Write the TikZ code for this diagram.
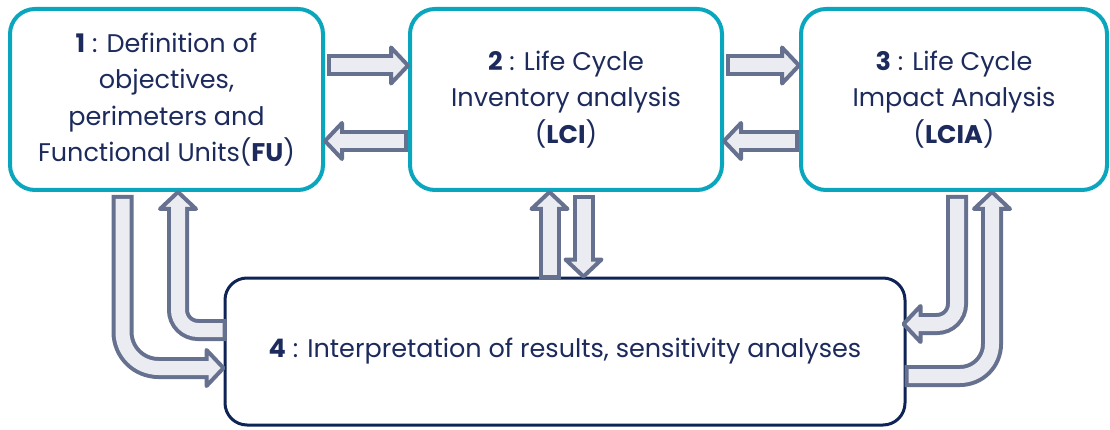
\documentclass[tikz,border=0pt]{standalone}
\usepackage{fontspec}
\setmainfont{Poppins}
\usetikzlibrary{calc}
\definecolor{boxteal}{HTML}{0AA6BE}
\definecolor{boxnavy}{HTML}{0F2456}
\definecolor{arrline}{HTML}{66708F}
\definecolor{arrfill}{HTML}{EBECF2}
\definecolor{txtnavy}{HTML}{1C2A5C}
\newcommand\blockarrow[4]{% #1 corner style, #2 shaft path, #3 head base, #4 direction
  \draw[arrline, line width=22pt, shorten <=-4pt, #1] #2;
  \begin{scope}[shift={(#3)}, rotate=#4]
    \filldraw[draw=arrline, fill=arrfill, line width=4pt, line join=round]
      (0,-18) -- (17,0) -- (0,18) -- cycle;
  \end{scope}
  \draw[arrfill, line width=14pt, shorten >=-3pt, #1] #2;
}
\tikzset{
  topbox/.style={draw=boxteal, line width=4pt, rounded corners=25pt, fill=white,
    minimum height=181pt, inner sep=0pt, align=center, text=txtnavy,
    font=\fontsize{25.5}{36.5}\selectfont},
  botbox/.style={draw=boxnavy, line width=3pt, rounded corners=22pt, fill=white,
    minimum width=680pt, minimum height=147pt, inner sep=0pt, align=center, text=txtnavy,
    font=\fontsize{25.5}{36.5}\selectfont}
}
\begin{document}
\begin{tikzpicture}[x=1pt,y=-1pt]
\useasboundingbox (0,0) rectangle (1110,430);
\node[topbox, minimum width=313pt] (b1) at (166.5,99.5)
  {\textbf{1} : Definition of\\objectives,\\perimeters and\\Functional Units(\textbf{FU})};
\node[topbox, minimum width=312pt] (b2) at (566,99.5)
  {\textbf{2} : Life Cycle\\Inventory analysis\\(\textbf{LCI})};
\node[topbox, minimum width=306pt] (b3) at (954,99.5)
  {\textbf{3} : Life Cycle\\Impact Analysis\\(\textbf{LCIA})};
\node[botbox] (b4) at (565,351.5)
  {\textbf{4} : Interpretation of results, sensitivity analyses};
% horizontal arrows
\coordinate (a1t) at ($(b1.east)+(6,-34)$);
\coordinate (a1b) at ($(b2.west)+(-17,-34)$);
\blockarrow{sharp corners}{(a1t) -- (a1b)}{a1b}{0}
\coordinate (a2t) at ($(b2.west)+(-4,41.5)$);
\coordinate (a2b) at ($(b1.east)+(17,41.5)$);
\blockarrow{sharp corners}{(a2t) -- (a2b)}{a2b}{180}
\coordinate (a3t) at ($(b2.east)+(6,-34)$);
\coordinate (a3b) at ($(b3.west)+(-17,-34)$);
\blockarrow{sharp corners}{(a3t) -- (a3b)}{a3b}{0}
\coordinate (a4t) at ($(b3.west)+(-4,41.5)$);
\coordinate (a4b) at ($(b2.east)+(17,41.5)$);
\blockarrow{sharp corners}{(a4t) -- (a4b)}{a4b}{180}
% vertical arrows between 2 and 4
\coordinate (a5b) at ($(b2.south)+(-16.5,17)$);
\coordinate (a5t) at ($(a5b |- b4.north)+(0,-2)$);
\blockarrow{sharp corners}{(a5t) -- (a5b)}{a5b}{90}
\coordinate (a6t) at ($(b2.south)+(17.5,7)$);
\coordinate (a6b) at ($(a6t |- b4.north)+(0,-17)$);
\blockarrow{sharp corners}{(a6t) -- (a6b)}{a6b}{270}
% left bent arrows
\coordinate (l1t) at ($(b1.south)+(-44,7)$);
\coordinate (l1b) at ($(b4.west)+(-17,16.5)$);
\blockarrow{rounded corners=36pt}{(l1t) |- (l1b)}{l1b}{0}
\coordinate (l2t) at ($(b4.west)+(-1,-21.5)$);
\coordinate (l2b) at ($(b1.south)+(11.5,17)$);
\blockarrow{rounded corners=20pt}{(l2t) -| (l2b)}{l2b}{90}
% right bent arrows
\coordinate (j1t) at ($(b3.south)+(3,7)$);
\coordinate (j1b) at ($(b4.east)+(14,-27.5)$);
\blockarrow{rounded corners=20pt}{(j1t) |- (j1b)}{j1b}{180}
\coordinate (j2t) at ($(b4.east)+(2,24.5)$);
\coordinate (j2b) at ($(b3.south)+(38,17)$);
\blockarrow{rounded corners=32pt}{(j2t) -| (j2b)}{j2b}{90}
\end{tikzpicture}
\end{document}
